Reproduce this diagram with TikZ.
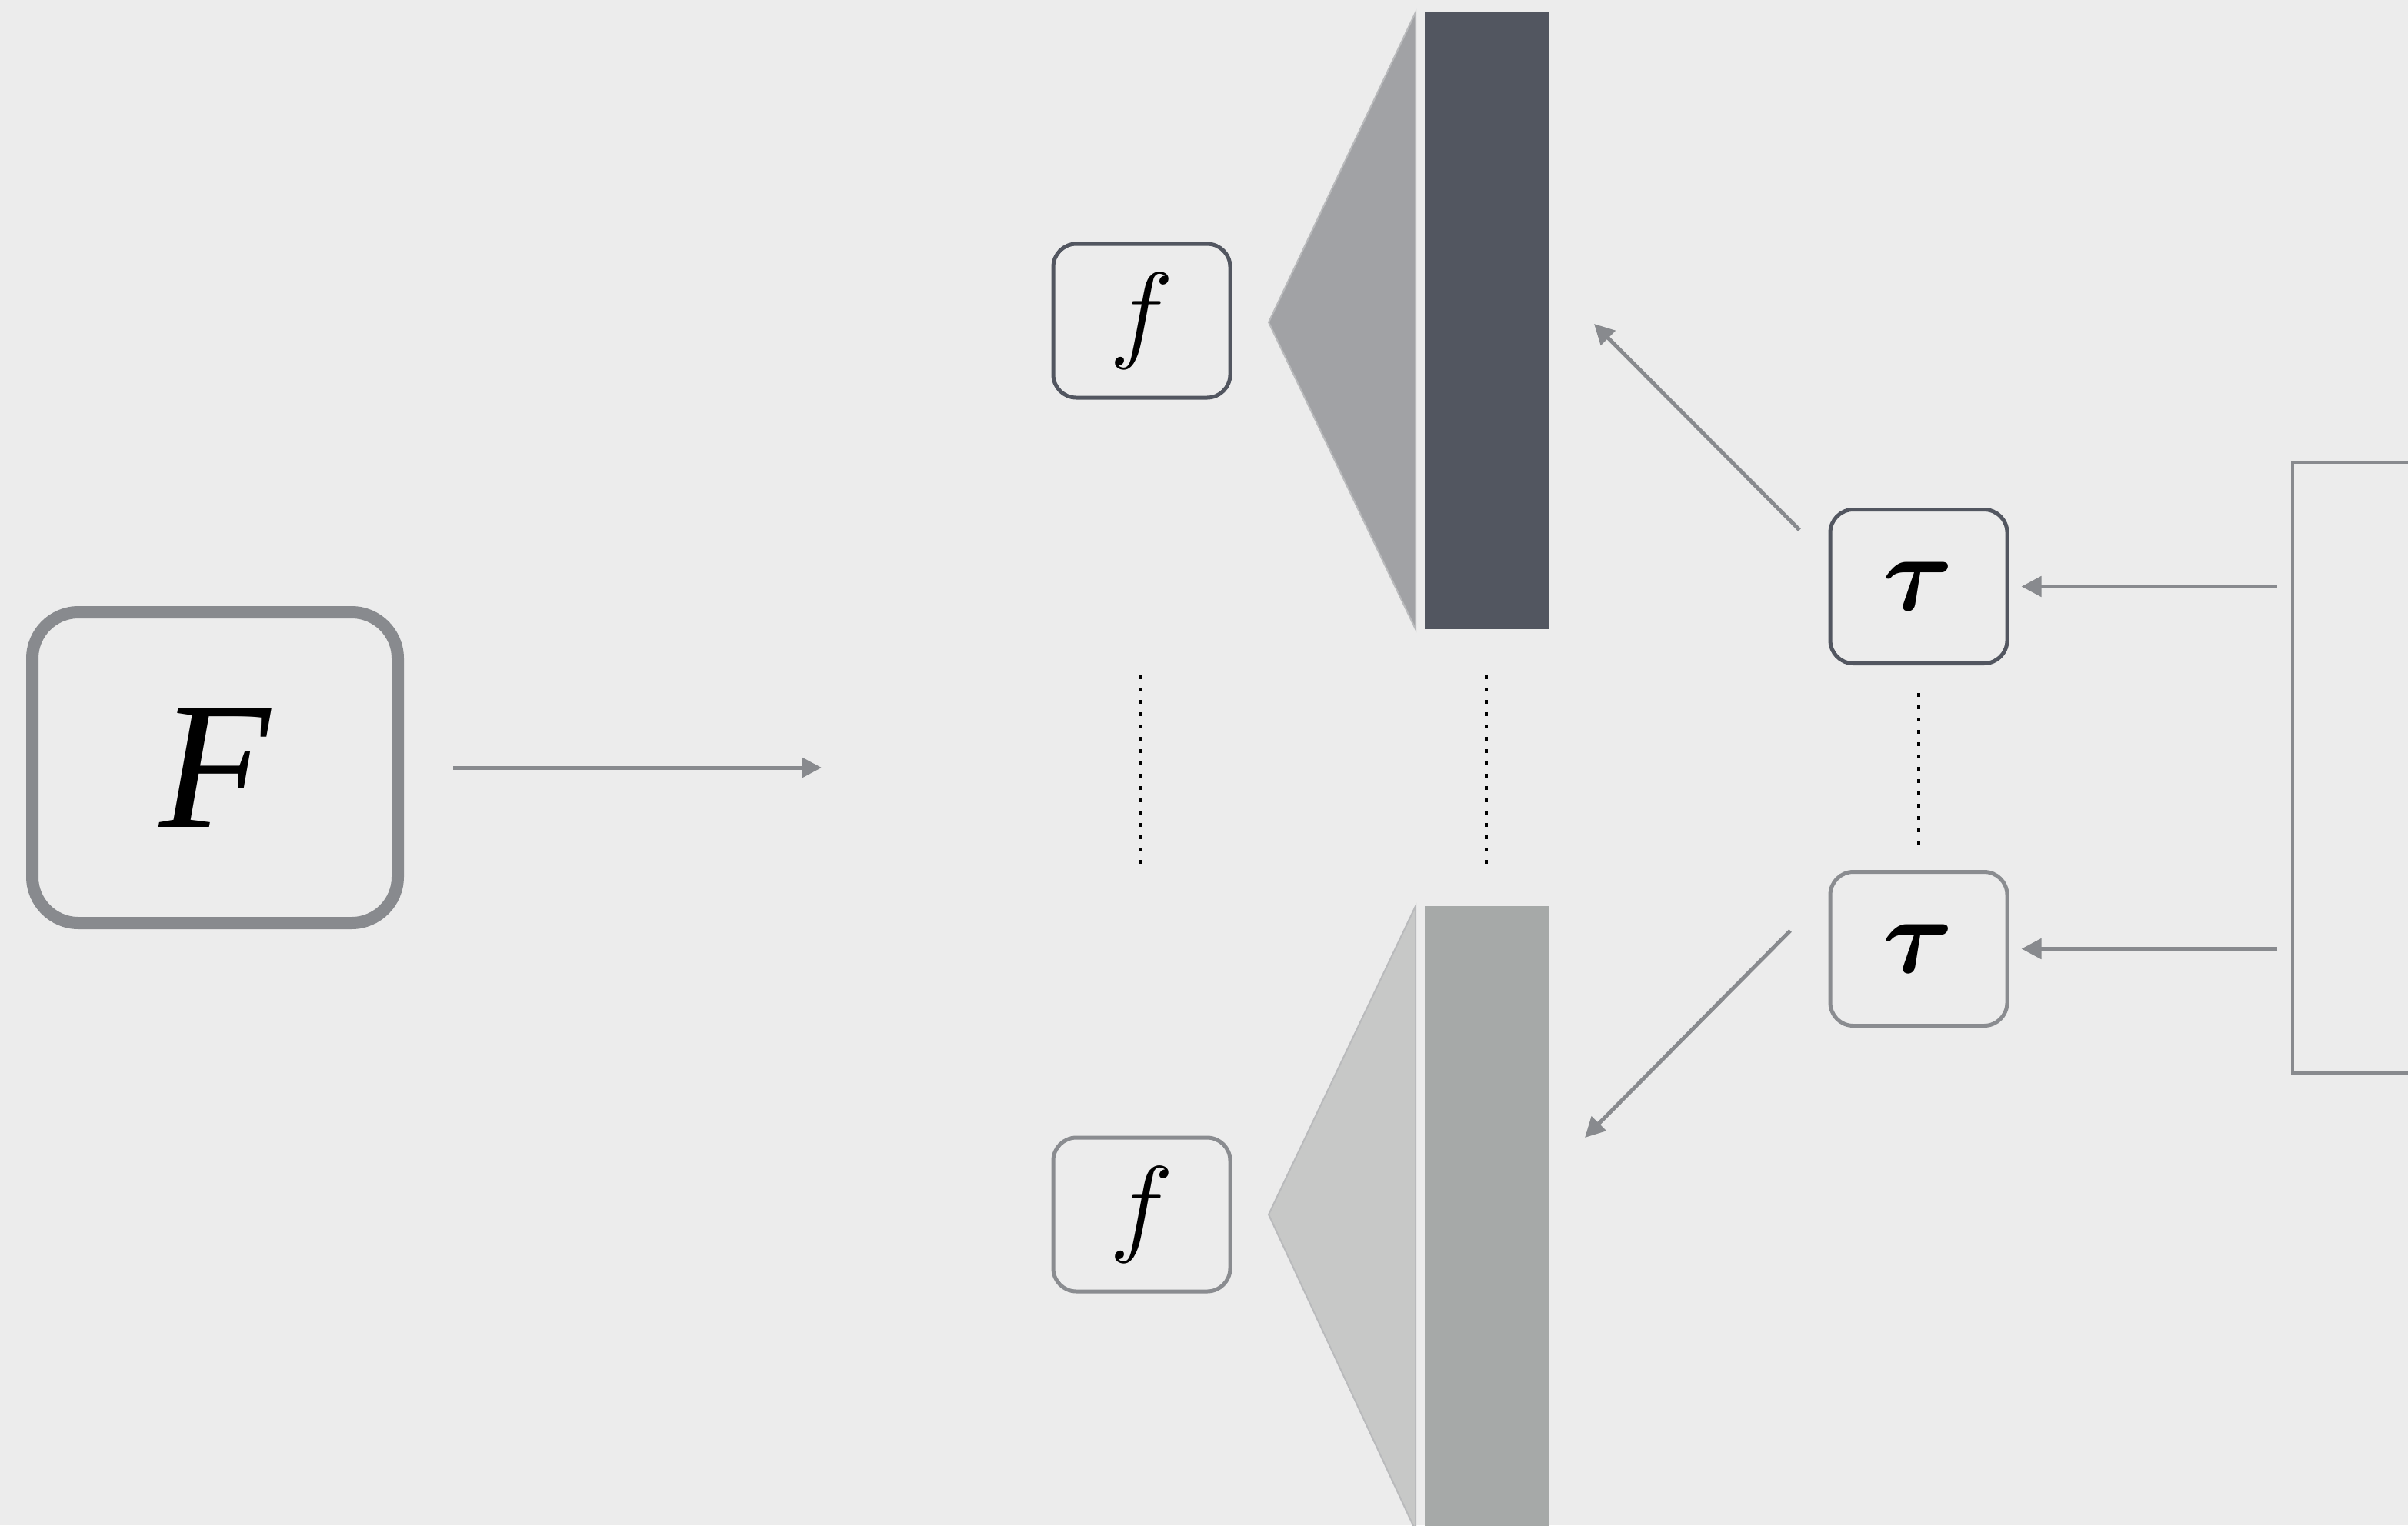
\RequirePackage{fix-cm}
\documentclass[tikz,border=0pt]{standalone}
\usepackage{amsmath}
\usepackage{fontspec}
\newfontfamily\timesit{Liberation Serif}
\usepackage{tikz}
\usetikzlibrary{arrows.meta}
\definecolor{paper}{HTML}{ECECEC}
\definecolor{wire}{HTML}{888A8E}
\definecolor{slate}{HTML}{525660}
\definecolor{pale}{HTML}{8A8C90}
\definecolor{fantop}{HTML}{A1A2A5}
\definecolor{fanbot}{HTML}{C7C8C7}
\definecolor{fanedge}{HTML}{B9BABC}
\definecolor{barbot}{HTML}{A6A9A8}
\tikzstyle{bigbox} = [rectangle, rounded corners=0.6cm, minimum width=4.75cm, minimum height=4.04cm, draw=wire, line width=0.16cm, inner sep=0pt]
\tikzstyle{smallbox} = [rectangle, rounded corners=0.3cm, minimum width=2.3cm, minimum height=2cm, draw=slate, line width=0.05cm, inner sep=0pt, font=\fontsize{40}{42}\selectfont]
\tikzstyle{arrow} = [line width=0.05cm, draw=wire, -{Triangle[length=0.26cm, width=0.26cm]}]
\tikzstyle{dots} = [line width=0.045cm, dash pattern=on 0.045cm off 0.115cm]
\tikzstyle{fan} = [line width=0.02cm, draw=fanedge]

\begin{document}
\begin{tikzpicture}

\fill [paper] (0,0) rectangle (31.30,-19.83);
\useasboundingbox (0,0) rectangle (31.30,-19.83);

\node (Fbox) [bigbox] at (2.795,-9.98) {\fontsize{67}{70}\selectfont\timesit\itshape F};

\node (ftop) [smallbox] at (14.84,-4.17) {$f$};
\node (fbot) [smallbox, draw=pale] at (14.84,-15.79) {$f$};

\node (tautop) [smallbox] at (24.94,-7.625) {$\boldsymbol{\tau}$};
\node (taubot) [smallbox, draw=pale] at (24.94,-12.335) {$\boldsymbol{\tau}$};

% fans and bars
\filldraw [fan, fill=fantop] (16.49,-4.19) -- (18.40,-0.16) -- (18.40,-8.18) -- cycle;
\fill [slate] (18.52,-0.16) rectangle (20.14,-8.18);
\filldraw [fan, fill=fanbot] (16.49,-15.79) -- (18.40,-11.78) -- (18.40,-19.90) -- cycle;
\fill [barbot] (18.52,-11.78) rectangle (20.14,-19.95);

% dotted gaps
\draw [dots] (14.83,-8.78) -- (14.83,-11.24);
\draw [dots] (19.32,-8.78) -- (19.32,-11.24);
\draw [dots] (tautop.south) ++(0,-0.36) -- ([yshift=0.22cm]taubot.north);

% bracket on the right
\draw [wire, line width=0.045cm] (31.40,-6.01) -- (29.80,-6.01) -- (29.80,-13.95) -- (31.40,-13.95);

\coordinate (Fout) at (10.68,-9.98);
\coordinate (intop) at (29.60,-7.625);
\coordinate (inbot) at (29.60,-12.335);
\coordinate (uptail) at (23.39,-6.89);
\coordinate (uptip) at (20.72,-4.21);
\coordinate (dntail) at (23.27,-12.10);
\coordinate (dntip) at (20.60,-14.79);

\draw [arrow, shorten <=0.64cm] (Fbox) -- (Fout);
\draw [arrow, shorten >=0.16cm] (intop) -- (tautop);
\draw [arrow, shorten >=0.16cm] (inbot) -- (taubot);
\draw [arrow] (uptail) -- (uptip);
\draw [arrow] (dntail) -- (dntip);

\end{tikzpicture}
\end{document}
